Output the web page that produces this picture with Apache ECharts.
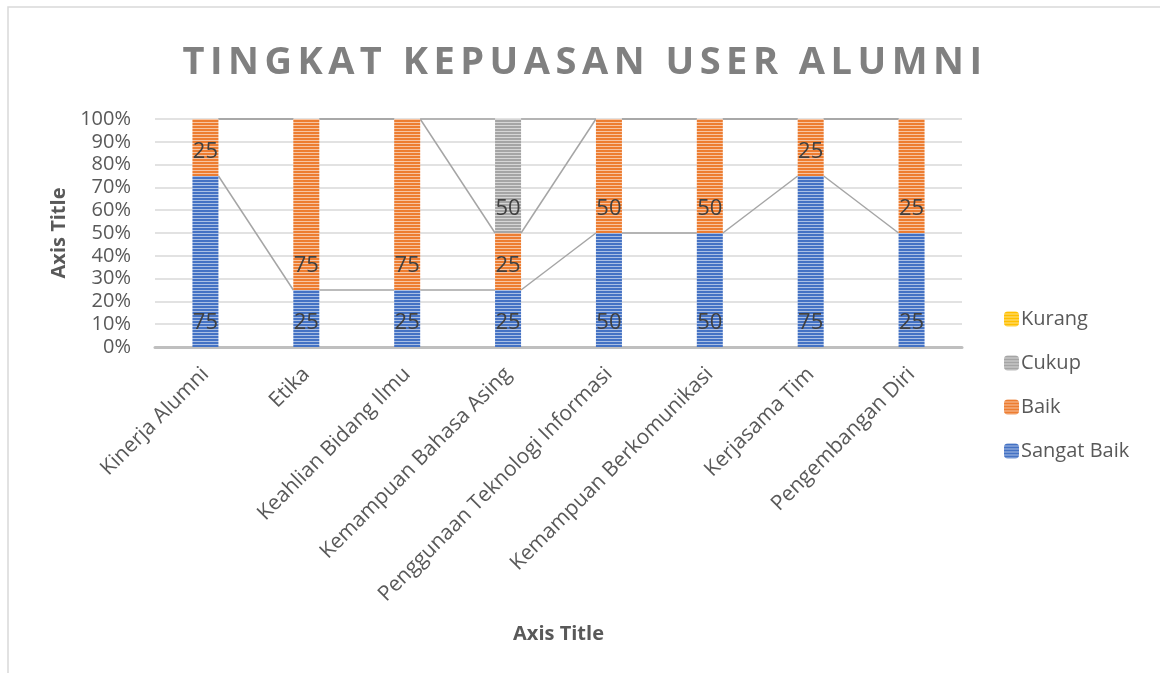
<!DOCTYPE html>
<html>
<head>
<meta charset="utf-8">
<script src="https://cdn.jsdelivr.net/npm/echarts@6/dist/echarts.min.js"></script>
<style>
  html, body { margin: 0; padding: 0; background: #fff; }
  .wrap { position: relative; width: 1160px; height: 673px; overflow: hidden; }
  #chart { width: 1160px; height: 673px; }
  .chart-title {
    position: absolute; left: 0; width: 1170px; top: 33px;
    text-align: center; font-family: "Open Sans", sans-serif;
    font-weight: 700; font-size: 38px; letter-spacing: 5.5px; color: #808080;
  }
</style>
</head>
<body>
<div class="wrap">
  <div id="chart"></div>
  <div class="chart-title">TINGKAT KEPUASAN USER ALUMNI</div>
</div>
<script>
// kategori penilaian
var categories = ['Kinerja Alumni', 'Etika', 'Keahlian Bidang Ilmu', 'Kemampuan Bahasa Asing',
  'Penggunaan Teknologi Informasi', 'Kemampuan Berkomunikasi', 'Kerjasama Tim', 'Pengembangan Diri'];
var sangatBaik = [75, 25, 25, 25, 50, 50, 75, 25];
var baik = [25, 75, 75, 25, 50, 50, 25, 25];
var cukup = [0, 0, 0, 50, 0, 0, 0, 0];
var kurang = [0, 0, 0, 0, 0, 0, 0, 0];
var yTicks = [0, 10, 20, 30, 40, 50, 60, 70, 80, 90, 100];

var seriesNames = ['Sangat Baik', 'Baik', 'Cukup', 'Kurang'];
var seriesRaw = [sangatBaik, baik, cukup, kurang];
var colors = ['#4472C4', '#ED7D31', '#A5A5A5', '#FFC000'];

// garis-garis horizontal seperti pola Excel
function stripe(color) {
  var c = document.createElement('canvas');
  c.width = 4; c.height = 3;
  var ctx = c.getContext('2d');
  ctx.fillStyle = color;
  ctx.fillRect(0, 0, 4, 3);
  ctx.fillStyle = 'rgba(255,255,255,0.55)';
  ctx.fillRect(0, 2, 4, 1);
  return { image: c, repeat: 'repeat' };
}

var totals = categories.map(function (_, i) {
  return seriesRaw.reduce(function (s, arr) { return s + arr[i]; }, 0);
});
function pct(arr) {
  return arr.map(function (v, i) { return totals[i] ? v / totals[i] * 100 : 0; });
}

var barW = 26;
var series = seriesRaw.map(function (arr, k) {
  var p = pct(arr);
  return {
    name: seriesNames[k],
    type: 'bar',
    stack: 'total',
    barWidth: barW,
    itemStyle: { color: stripe(colors[k]) },
    label: {
      show: true,
      position: 'insideBottom',
      distance: 13,
      fontSize: 22,
      fontFamily: 'Open Sans',
      color: '#404040',
      formatter: function (prm) { return arr[prm.dataIndex] > 0 ? String(arr[prm.dataIndex]) : ''; }
    },
    data: p
  };
});

// garis seri antar batang (dari puncak tiap segmen)
var lineData = [];
var cum = categories.map(function () { return 0; });
for (var k = 0; k < 3; k++) {
  var p = pct(seriesRaw[k]);
  cum = cum.map(function (v, i) { return v + p[i]; });
  for (var i = 0; i < categories.length - 1; i++) {
    lineData.push([i, cum[i], cum[i + 1]]);
  }
}
series.push({
  type: 'custom',
  name: 'seriesLines',
  silent: true,
  z: 1,
  encode: { x: 0, y: [1, 2] },
  renderItem: function (params, api) {
    var i = api.value(0);
    var a = api.coord([i, api.value(1)]);
    var b = api.coord([i + 1, api.value(2)]);
    return {
      type: 'line',
      shape: { x1: a[0] + barW / 2, y1: a[1], x2: b[0] - barW / 2, y2: b[1] },
      style: { stroke: '#A5A5A5', lineWidth: 1.5 }
    };
  },
  data: lineData
});

var chart = echarts.init(document.getElementById('chart'));
chart.setOption({
  animation: false,
  textStyle: { fontFamily: 'Open Sans' },
  grid: { left: 155, right: 198, top: 119, bottom: 326 },
  legend: {
    orient: 'vertical',
    left: 999,
    top: 304,
    itemWidth: 15,
    itemHeight: 15,
    itemGap: 24,
    textStyle: { fontSize: 20, color: '#595959', padding: [0, 0, 0, -3] },
    data: ['Kurang', 'Cukup', 'Baik', 'Sangat Baik']
  },
  graphic: [{
    type: 'rect',
    shape: { x: 8, y: 7, width: 1300, height: 900 },
    style: { fill: 'none', stroke: '#D9D9D9', lineWidth: 1.5 },
    silent: true
  }],
  xAxis: {
    type: 'category',
    data: categories,
    name: 'Axis Title',
    nameLocation: 'middle',
    nameGap: 277,
    nameTextStyle: { fontSize: 20, fontWeight: 'bold', color: '#595959' },
    axisLine: { lineStyle: { color: '#BFBFBF', width: 3 } },
    axisTick: { show: false },
    axisLabel: { rotate: 45, fontSize: 21, color: '#595959', margin: 24, interval: 0 }
  },
  yAxis: {
    type: 'value',
    min: yTicks[0],
    max: yTicks[yTicks.length - 1],
    interval: yTicks[1] - yTicks[0],
    name: 'Axis Title',
    nameLocation: 'middle',
    nameGap: 84,
    nameTextStyle: { fontSize: 20, fontWeight: 'bold', color: '#595959' },
    axisLine: { show: false },
    axisTick: { show: false },
    axisLabel: { fontSize: 20, color: '#595959', margin: 24, formatter: '{value}%' },
    splitLine: { lineStyle: { color: '#D9D9D9', width: 1.5 } }
  },
  series: series
});
</script>
</body>
</html>
